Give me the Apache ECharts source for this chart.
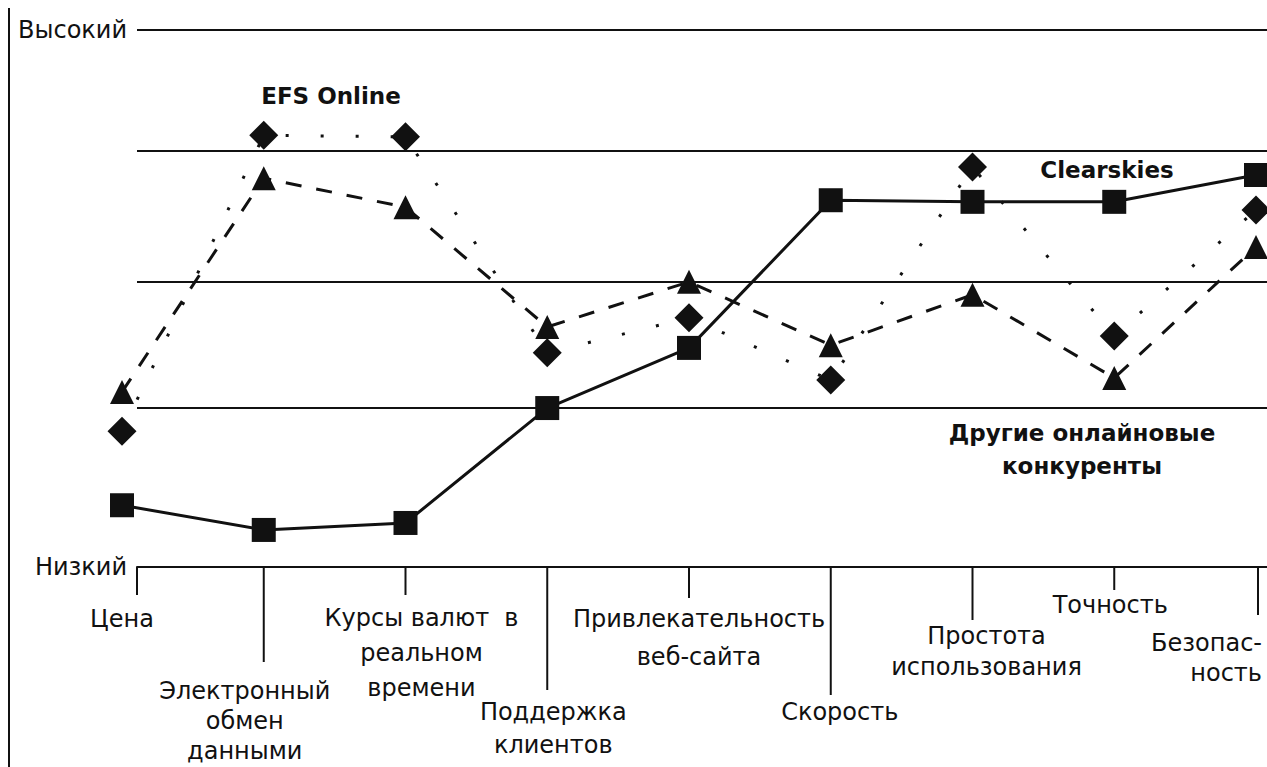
<!DOCTYPE html>
<html lang="ru">
<head>
    <meta charset="UTF-8">
    <title>Стратегическая канва</title>
    <script src="https://cdn.jsdelivr.net/npm/echarts@6.0.0/dist/echarts.min.js"></script>
    <style>
        body { margin: 0; background: #fff; }
    </style>
</head>
<body>
<div id="canvas" style="width: 1267px;height:767px;"></div>

<script>
    // факторы конкуренции (ось X)
    var categories = ['Цена', 'Электронный\nобмен\nданными', 'Курсы валют  в\nреальном\nвремени',
        'Поддержка\nклиентов', 'Привлекательность\nвеб-сайта', 'Скорость',
        'Простота\nиспользования', 'Точность', 'Безопас-\nность'];

    // оценки по шкале 0 (низкий) .. 100 (высокий)
    var clearskies = [11.5, 6.9, 8.2, 29.6, 40.8, 68.3, 68.0, 68.0, 73.0];
    var efsOnline = [25.3, 80.4, 80.1, 39.9, 46.4, 34.8, 74.5, 43.0, 66.5];
    var others = [32.6, 72.4, 67.0, 44.7, 53.1, 41.3, 50.7, 35.2, 59.6];

    // горизонтальные уровни
    var levels = [29.6, 53.1, 77.5, 100];
    var levelNames = {0: 'Низкий', 100: 'Высокий'};

    // оформление подписей под осью (смещения в пикселях)
    var tickDx = [15, 0, 0, 0, 0, 0, 0, 0, 2];
    var tickLen = [28, 95, 28, 123, 31, 128, 53, 23, 48];
    var labelDx = [0, -19, 16, 6, 10, 9, 14, -4, 6];
    var labelDy = [35, 109, 33, 128, 33, 128, 53, 21, 61];
    var labelLh = [34, 30, 35, 33, 38, 34, 31, 34, 30];
    var labelAlign = ['center', 'center', 'center', 'center', 'center', 'center', 'center', 'center', 'right'];

    var black = '#111';
    var font = '"DejaVu Sans", "Liberation Sans", sans-serif';

    var chart = echarts.init(document.getElementById('canvas'), null, {renderer: 'svg'});

    chart.setOption({
        animation: false,
        backgroundColor: '#fff',
        grid: [
            {left: 122, right: 11, top: 30, bottom: 200},   // точки
            {left: 137, right: 0, top: 30, bottom: 200}     // рамка и уровни
        ],
        xAxis: [
            {
                type: 'category', gridIndex: 0, data: categories, boundaryGap: false,
                axisLine: {show: false}, axisTick: {show: false}, axisLabel: {show: false}
            },
            {
                type: 'value', gridIndex: 1, min: 0, max: 1,
                axisLine: {show: true, onZero: false, lineStyle: {color: black, width: 2}},
                axisTick: {show: false}, axisLabel: {show: false}, splitLine: {show: false}
            }
        ],
        yAxis: [
            {type: 'value', gridIndex: 0, min: 0, max: 100, show: false},
            {
                type: 'value', gridIndex: 1, min: 0, max: 100, interval: 100,
                axisLine: {show: false}, axisTick: {show: false}, splitLine: {show: false},
                axisLabel: {
                    margin: 10, color: black, fontFamily: font, fontSize: 24,
                    formatter: function (v) { return levelNames[v]; }
                }
            }
        ],
        graphic: [
            {type: 'line', shape: {x1: 9, y1: 8, x2: 9, y2: 767}, style: {stroke: black, lineWidth: 2}},
            {
                type: 'text', x: 331, y: 96,
                style: {text: 'EFS Online', fill: black, font: 'bold 23px ' + font, align: 'center', verticalAlign: 'middle'}
            },
            {
                type: 'text', x: 1107, y: 170,
                style: {text: 'Clearskies', fill: black, font: 'bold 23px ' + font, align: 'center', verticalAlign: 'middle'}
            },
            {
                type: 'text', x: 1082, y: 449,
                style: {
                    text: 'Другие онлайновые\nконкуренты', fill: black, font: 'bold 23px ' + font,
                    align: 'center', verticalAlign: 'middle', lineHeight: 33
                }
            }
        ],
        series: [
            {
                name: 'уровни', type: 'line', xAxisIndex: 1, yAxisIndex: 1, data: [],
                markLine: {
                    silent: true, symbol: 'none', label: {show: false},
                    lineStyle: {color: black, width: 2, type: 'solid'},
                    data: levels.map(function (v) { return {yAxis: v}; })
                }
            },
            {
                name: 'Другие онлайновые конкуренты', type: 'line', data: others,
                symbol: 'triangle', symbolSize: 24,
                lineStyle: {color: black, width: 3, type: [16, 15]},
                itemStyle: {color: black}
            },
            {
                name: 'EFS Online', type: 'line', data: efsOnline,
                symbol: 'diamond', symbolSize: 29,
                lineStyle: {color: black, width: 3, type: [3, 32]},
                itemStyle: {color: black}
            },
            {
                name: 'Clearskies', type: 'line', data: clearskies,
                symbol: 'rect', symbolSize: 24,
                lineStyle: {color: black, width: 3, type: 'solid'},
                itemStyle: {color: black}
            },
            {
                // засечки и подписи факторов под осью
                name: 'факторы', type: 'custom', clip: false, silent: true,
                data: categories.map(function (c, i) { return [i, 0]; }),
                renderItem: function (params, api) {
                    var i = params.dataIndex;
                    var p = api.coord([api.value(0), 0]);
                    var x = p[0] + tickDx[i];
                    return {
                        type: 'group',
                        children: [
                            {
                                type: 'line',
                                shape: {x1: x, y1: p[1], x2: x, y2: p[1] + tickLen[i]},
                                style: {stroke: black, lineWidth: 2}
                            },
                            {
                                type: 'text', x: p[0] + labelDx[i], y: p[1] + labelDy[i],
                                style: {
                                    text: categories[i], fill: black, font: '24px ' + font,
                                    align: labelAlign[i], verticalAlign: 'top', lineHeight: labelLh[i]
                                }
                            }
                        ]
                    };
                }
            }
        ]
    });
</script>
</body>
</html>
